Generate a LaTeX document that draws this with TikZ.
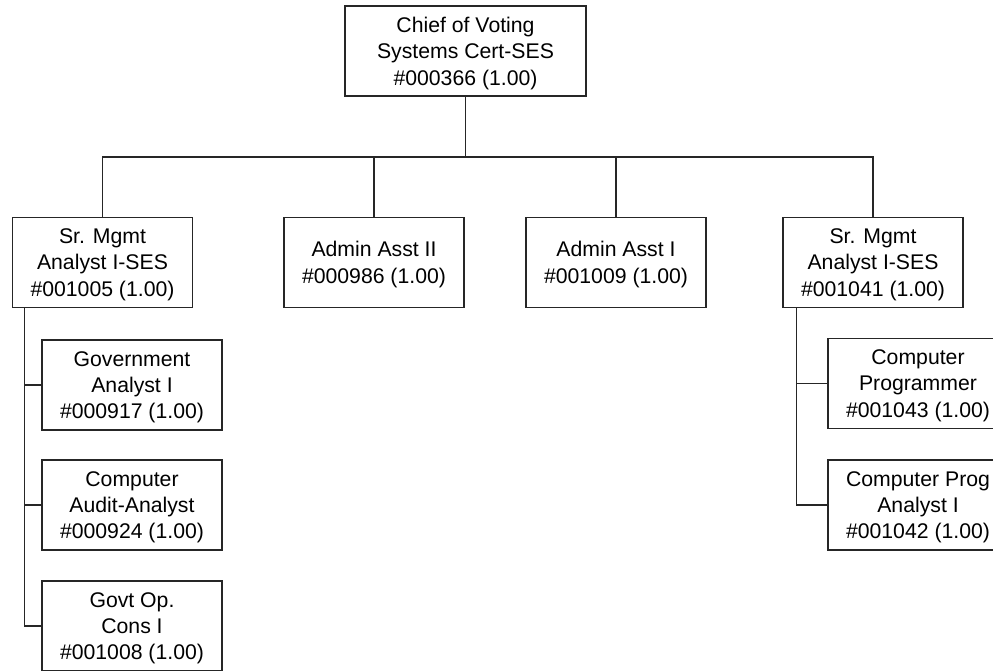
\documentclass[tikz,border=0pt]{standalone}
\usepackage{fontspec}
\setmainfont{Liberation Sans}
\usetikzlibrary{calc}
\begin{document}
\begin{tikzpicture}[x=1bp,y=-1bp,
  post/.style={draw=black!85, line width=1.3bp, rectangle, minimum width=180bp,
    minimum height=90bp, inner sep=0pt, align=center, text depth=0pt,
    font=\fontsize{21.3}{26.5}\selectfont},
  link/.style={draw=black!85, line width=1.3bp}]
\useasboundingbox (0,0) rectangle (993,671);
\clip (0,0) rectangle (993,671);

% head of the unit
\node[post, minimum width=241bp] (chief) at (465.5,51) {Chief of Voting\\Systems Cert-SES\\\#000366 (1.00)};

% direct reports
\node[post] (smaA) at (102.5,262.5) {Sr. Mgmt\\Analyst I-SES\\\#001005 (1.00)};
\node[post] (aa2)  at (374,262.5) {Admin Asst II\\\#000986 (1.00)};
\node[post] (aa1)  at (616,262.5) {Admin Asst I\\\#001009 (1.00)};
\node[post] (smaB) at (873,262.5) {Sr. Mgmt\\Analyst I-SES\\\#001041 (1.00)};

% staff under the first senior analyst
\node[post] (gov)  at (132,385) {Government\\Analyst I\\\#000917 (1.00)};
\node[post] (cau)  at (132,505) {Computer\\Audit-Analyst\\\#000924 (1.00)};
\node[post] (gop)  at (132,626) {Govt Op.\\Cons I\\\#001008 (1.00)};

% staff under the second senior analyst
\node[post] (cpr)  at (918,383.5) {Computer\\Programmer\\\#001043 (1.00)};
\node[post] (cpa)  at (918,505) {Computer Prog\\Analyst I\\\#001042 (1.00)};

% top-level fan-out
\coordinate (bar) at (0,157);
\draw[link] (chief.south) -- (chief.south |- bar);
\draw[link] (smaA.north) |- (smaB.north |- bar) -- (smaB.north);
\draw[link] (aa2.north) -- (aa2.north |- bar);
\draw[link] (aa1.north) -- (aa1.north |- bar);

% left branch
\coordinate (spineA) at ($(smaA.south west)+(13,0)$);
\draw[link] (spineA) |- (gop.west);
\draw[link] (gov.west) -- (gov.west -| spineA);
\draw[link] (cau.west) -- (cau.west -| spineA);

% right branch
\coordinate (spineB) at ($(smaB.south west)+(14,0)$);
\draw[link] (spineB) |- (cpa.west);
\draw[link] (cpr.west) -- (cpr.west -| spineB);
\end{tikzpicture}
\end{document}
